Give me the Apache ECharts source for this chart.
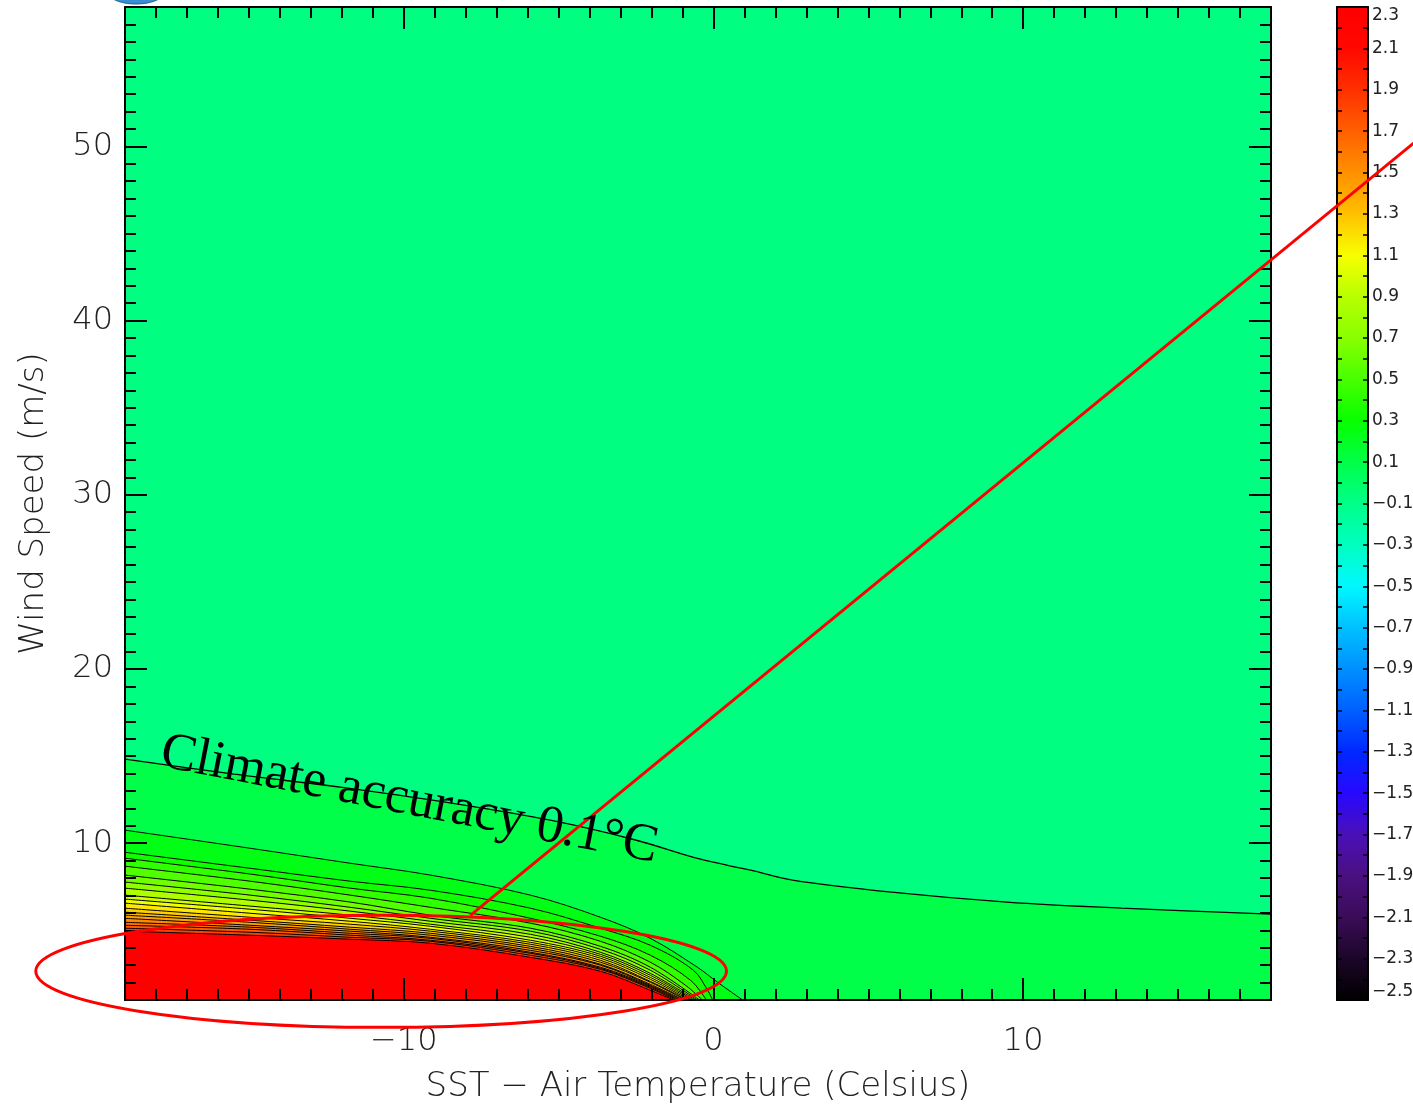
<!DOCTYPE html>
<html>
<head>
<meta charset="utf-8">
<script src="https://cdn.jsdelivr.net/npm/echarts@6/dist/echarts.min.js"></script>
<style>
  html, body { margin: 0; padding: 0; background: #fff; }
  #chart { width: 1413px; height: 1107px; }
</style>
</head>
<body>
<div id="chart"></div>
<script>
// 坐标范围：x = SST - 气温 (°C)，y = 风速 (m/s)
const xRange = [-19, 18];
const yRange = [1, 58];
const xMajorTicks = [-10, 0, 10];
const yMajorTicks = [10, 20, 30, 40, 50];

// 色标
const cbarRange = [-2.5, 2.3];
const cbarLabels = [-2.5, -2.3, -2.1, -1.9, -1.7, -1.5, -1.3, -1.1, -0.9, -0.7, -0.5, -0.3,
  -0.1, 0.1, 0.3, 0.5, 0.7, 0.9, 1.1, 1.3, 1.5, 1.7, 1.9, 2.1, 2.3];
const cbarColors = ['#000000', '#1c0628', '#3a0c58', '#4a1080', '#4a10b8', '#2808ff', '#0028ff',
  '#0060ff', '#0090ff', '#00c0ff', '#00f8ff', '#00ffc0', '#00ff88', '#00ff48', '#08ff00',
  '#48ff00', '#88ff00', '#b8ff00', '#f8ff00', '#ffc000', '#ff9000', '#ff6000', '#ff3000',
  '#ff0800', '#ff0000'];

// 等值线（从图上读出的点，[x, 风速]），每条线下方填该层颜色
const contour_0_1 = [[-19, 14.83], [-15.48, 13.96], [-12.05, 13.22], [-8.66, 12.36], [-5.27, 11.32],
  [-2.49, 10.17], [-0.42, 9.08], [1.2, 8.45], [2.55, 7.88], [5.75, 7.19], [9.47, 6.62], [13.18, 6.27], [18, 5.93]];
const contour_0_2 = [[-19, 10.75], [-14.96, 9.71], [-11.73, 8.85], [-9.14, 8.17], [-5.91, 7.02], [-3.65, 5.75],
  [-2.04, 4.54], [-0.52, 2.88], [0.13, 2.02], [0.94, 1]];
const contour_0_3 = [[-19, 9.48], [-14.96, 8.56], [-11.73, 7.82], [-9.14, 7.30], [-5.91, 6.27], [-3.65, 5.12],
  [-2.04, 4.14], [-0.65, 2.71], [-0.19, 1.56], [-0.03, 1]];
const contour_0_4 = [[-19, 9.14], [-14.96, 8.23], [-11.73, 7.42], [-9.14, 6.84], [-5.91, 5.69], [-3.65, 4.66],
  [-2.04, 3.57], [-0.74, 2.13], [-0.23, 1]];
const contour_0_5 = [[-19, 8.68], [-14.96, 7.82], [-11.73, 7.02], [-9.14, 6.32], [-5.91, 5.41], [-3.65, 4.37],
  [-2.04, 3.17], [-0.9, 1.84], [-0.36, 1]];
const contour_0_6 = [[-19, 8.17], [-14.96, 7.36], [-11.73, 6.62], [-9.14, 5.87], [-5.91, 5.12], [-3.65, 4.08],
  [-2.04, 2.88], [-0.45, 1]];
const contour_0_7 = [[-19, 7.77], [-14.96, 7.02], [-11.73, 6.32], [-9.14, 5.69], [-5.91, 4.95], [-3.65, 3.91],
  [-2.04, 2.71], [-0.52, 1]];
const contour_0_8 = [[-19, 7.42], [-14.96, 6.73], [-11.73, 6.10], [-9.14, 5.52], [-5.91, 4.77], [-3.65, 3.74],
  [-2.04, 2.53], [-0.58, 1]];
const contour_0_9 = [[-19, 7.02], [-14.96, 6.39], [-11.73, 5.87], [-9.14, 5.35], [-5.91, 4.60], [-3.65, 3.62],
  [-2.04, 2.42], [-0.65, 1]];
const contour_1_0 = [[-19, 6.79], [-14.96, 6.21], [-11.73, 5.69], [-9.14, 5.23], [-5.91, 4.43], [-3.65, 3.51],
  [-2.04, 2.30], [-0.71, 1]];
const contour_1_1 = [[-19, 6.56], [-14.96, 5.98], [-11.73, 5.52], [-9.14, 5.06], [-5.91, 4.31], [-3.65, 3.40],
  [-2.04, 2.19], [-0.78, 1]];
const contour_1_2 = [[-19, 6.27], [-14.96, 5.75], [-11.73, 5.35], [-9.14, 4.95], [-5.91, 4.20], [-3.65, 3.28],
  [-2.04, 2.07], [-0.84, 1]];
const contour_1_3 = [[-19, 6.04], [-14.96, 5.58], [-11.73, 5.18], [-9.14, 4.83], [-5.91, 4.08], [-3.65, 3.17],
  [-2.04, 2.02], [-0.9, 1]];
const contour_1_4 = [[-19, 5.87], [-14.96, 5.46], [-11.73, 5.06], [-9.14, 4.72], [-5.91, 3.97], [-3.65, 3.05],
  [-2.04, 1.90], [-0.97, 1]];
const contour_1_5 = [[-19, 5.69], [-14.96, 5.29], [-11.73, 4.95], [-9.14, 4.60], [-5.91, 3.85], [-3.65, 3.00],
  [-2.04, 1.84], [-1.03, 1]];
const contour_1_6 = [[-19, 5.46], [-14.96, 5.18], [-11.73, 4.83], [-9.14, 4.54], [-5.91, 3.74], [-3.65, 2.88],
  [-2.04, 1.79], [-1.1, 1]];
const contour_1_7 = [[-19, 5.29], [-14.96, 5.06], [-11.73, 4.72], [-9.14, 4.43], [-5.91, 3.68], [-3.65, 2.82],
  [-2.04, 1.73], [-1.16, 1]];
const contour_1_8 = [[-19, 5.12], [-14.96, 4.89], [-11.73, 4.60], [-9.14, 4.37], [-5.91, 3.57], [-3.65, 2.76],
  [-2.04, 1.67], [-1.23, 1]];
const contour_1_9 = [[-19, 4.95], [-14.96, 4.72], [-11.73, 4.49], [-9.14, 4.26], [-5.91, 3.45], [-3.65, 2.65],
  [-2.04, 1.56], [-1.29, 1]];

const contours = [contour_0_1, contour_0_2, contour_0_3, contour_0_4, contour_0_5, contour_0_6,
  contour_0_7, contour_0_8, contour_0_9, contour_1_0, contour_1_1, contour_1_2, contour_1_3,
  contour_1_4, contour_1_5, contour_1_6, contour_1_7, contour_1_8, contour_1_9];
// 每条等值线以下区域的颜色
const bandColors = ['#00ff48', '#00ff14', '#10ff00', '#30ff00', '#50ff00', '#70ff00', '#90ff00',
  '#b0ff00', '#d0ff00', '#f0ff00', '#ffe800', '#ffd000', '#ffb800', '#ffa000', '#ff8800',
  '#ff7000', '#ff5800', '#ff4000', '#ff0000'];

// 标注：红线 [x1, y1, x2, y2]、椭圆 [中心x, 中心y, 半宽, 半高]、文字位置
const redLine = [[-7.85, 5.86, 22.62, 50.21]];
const ellipseBox = [[-10.73, 2.65, 11.15, 3.22]];
const noteAnchor = [[-9.82, 12.47]];
const noteText = 'Climate accuracy 0.1°C';

const chart = echarts.init(document.getElementById('chart'));

const labelFont = { fontFamily: 'DejaVu Sans', fontWeight: 200, color: '#222' };
const fmt = (v) => (v < 0 ? '−' + Math.abs(v) : String(v));
const black = { color: '#000', width: 2 };

// 主图坐标轴：minor 轴负责每 1 个单位的小刻度，major 轴负责长刻度和标签
const mainX = (position, withLabels) => [
  {
    type: 'value', gridIndex: 0, position, min: xRange[0], max: xRange[1], interval: 1, z: 10,
    axisLine: { show: true, onZero: false, lineStyle: black },
    axisTick: { show: true, inside: true, length: 11, lineStyle: black },
    axisLabel: { show: false }, splitLine: { show: false },
  },
  {
    type: 'value', gridIndex: 0, position, min: xRange[0], max: xRange[1], z: 10,
    axisLine: { show: false, onZero: false },
    axisTick: { show: true, inside: true, length: 22, lineStyle: black, customValues: xMajorTicks },
    axisLabel: { show: withLabels, customValues: xMajorTicks, formatter: fmt, fontSize: 32, margin: 26, ...labelFont },
    splitLine: { show: false },
    name: withLabels ? 'SST − Air Temperature (Celsius)' : '',
    nameLocation: 'middle', nameGap: 70,
    nameTextStyle: { fontSize: 34, ...labelFont },
  },
];
const mainY = (position, withLabels) => [
  {
    type: 'value', gridIndex: 0, position, min: yRange[0], max: yRange[1], interval: 1, z: 10,
    axisLine: { show: true, onZero: false, lineStyle: black },
    axisTick: { show: true, inside: true, length: 11, lineStyle: black },
    axisLabel: { show: false }, splitLine: { show: false },
  },
  {
    type: 'value', gridIndex: 0, position, min: yRange[0], max: yRange[1], z: 10,
    axisLine: { show: false, onZero: false },
    axisTick: { show: true, inside: true, length: 22, lineStyle: black, customValues: yMajorTicks },
    axisLabel: { show: withLabels, customValues: yMajorTicks, formatter: fmt, fontSize: 32, margin: 12, ...labelFont },
    splitLine: { show: false },
    name: withLabels ? 'Wind Speed (m/s)' : '',
    nameLocation: 'middle', nameGap: 74,
    nameTextStyle: { fontSize: 34, ...labelFont },
  },
];

const cbarStops = cbarLabels.map((v, i) => ({
  offset: (v - cbarRange[0]) / (cbarRange[1] - cbarRange[0]),
  color: cbarColors[i],
}));

const cbarY = (position, withLabels) => ({
  type: 'value', gridIndex: 1, position, min: cbarRange[0], max: cbarRange[1], interval: 0.1, z: 10,
  axisLine: { show: true, onZero: false, lineStyle: black },
  axisTick: { show: true, inside: true, length: 5, lineStyle: { color: '#000', width: 1.5 } },
  axisLabel: {
    show: withLabels, customValues: cbarLabels, margin: 4,
    formatter: (v) => (v < 0 ? '−' + Math.abs(v).toFixed(1) : v.toFixed(1)),
    fontSize: 17, fontFamily: 'DejaVu Sans', color: '#222',
    verticalAlignMinLabel: 'bottom', verticalAlignMaxLabel: 'top',
  },
  splitLine: { show: false },
});
const cbarX = (position) => ({
  type: 'value', gridIndex: 1, position, min: 0, max: 1, z: 10,
  axisLine: { show: true, onZero: false, lineStyle: black },
  axisTick: { show: false }, axisLabel: { show: false }, splitLine: { show: false },
});

const contourSeries = contours.map((data, i) => ({
  type: 'line', xAxisIndex: 0, yAxisIndex: 0, data,
  symbol: 'none', smooth: 0.35, silent: true, z: 2,
  lineStyle: { color: '#000', width: i === 0 ? 1.3 : 1 },
  areaStyle: { color: bandColors[i], opacity: 1, origin: 'start' },
}));

const option = {
  animation: false,
  backgroundColor: '#ffffff',
  grid: [
    {
      left: 125, right: 142, top: 7, bottom: 107, outerBoundsMode: 'none',
      show: true, backgroundColor: '#00ff80', borderWidth: 0,
    },
    { left: 1337, width: 31, top: 7, bottom: 107, outerBoundsMode: 'none' },
  ],
  xAxis: [...mainX('bottom', true), ...mainX('top', false), cbarX('bottom'), cbarX('top')],
  yAxis: [...mainY('left', true), ...mainY('right', false), cbarY('right', true), cbarY('left', false)],
  series: [
    ...contourSeries,
    {
      // 色标
      type: 'custom', xAxisIndex: 4, yAxisIndex: 4, silent: true, z: 2,
      data: [[0, cbarRange[0], 1, cbarRange[1]]],
      renderItem: (params, api) => {
        const p0 = api.coord([api.value(0), api.value(3)]);
        const p1 = api.coord([api.value(2), api.value(1)]);
        return {
          type: 'rect',
          shape: { x: p0[0], y: p0[1], width: p1[0] - p0[0], height: p1[1] - p0[1] },
          style: { fill: new echarts.graphic.LinearGradient(0, 1, 0, 0, cbarStops) },
        };
      },
    },
    {
      // 红色直线，伸出绘图区
      type: 'custom', xAxisIndex: 0, yAxisIndex: 0, data: redLine, clip: false, silent: true, z: 20,
      renderItem: (params, api) => {
        const a = api.coord([api.value(0), api.value(1)]);
        const b = api.coord([api.value(2), api.value(3)]);
        return {
          type: 'line',
          shape: { x1: a[0], y1: a[1], x2: b[0], y2: b[1] },
          style: { stroke: '#ff0000', lineWidth: 3 },
        };
      },
    },
    {
      type: 'custom', xAxisIndex: 0, yAxisIndex: 0, data: ellipseBox, clip: false, silent: true, z: 20,
      renderItem: (params, api) => {
        const c = api.coord([api.value(0), api.value(1)]);
        const s = api.size([api.value(2), api.value(3)]);
        return {
          type: 'ellipse',
          shape: { cx: c[0], cy: c[1], rx: s[0], ry: s[1] },
          style: { fill: 'none', stroke: '#ff0000', lineWidth: 3 },
        };
      },
    },
    {
      type: 'custom', xAxisIndex: 0, yAxisIndex: 0, data: noteAnchor, clip: false, silent: true, z: 21,
      renderItem: (params, api) => {
        const p = api.coord([api.value(0), api.value(1)]);
        return {
          type: 'text', x: p[0], y: p[1], rotation: -11 * Math.PI / 180,
          style: {
            text: noteText, fill: '#000', align: 'center', verticalAlign: 'middle',
            font: '53px "Liberation Serif", serif',
          },
        };
      },
    },
  ],
  graphic: [
    {
      // 左上角截断的蓝色图形
      type: 'ellipse', z: 30, silent: true,
      shape: { cx: 136, cy: -8, rx: 28, ry: 12 },
      style: { fill: '#3a8ed4', stroke: '#1f5f99', lineWidth: 1 },
    },
  ],
};

chart.setOption(option);
</script>
</body>
</html>
